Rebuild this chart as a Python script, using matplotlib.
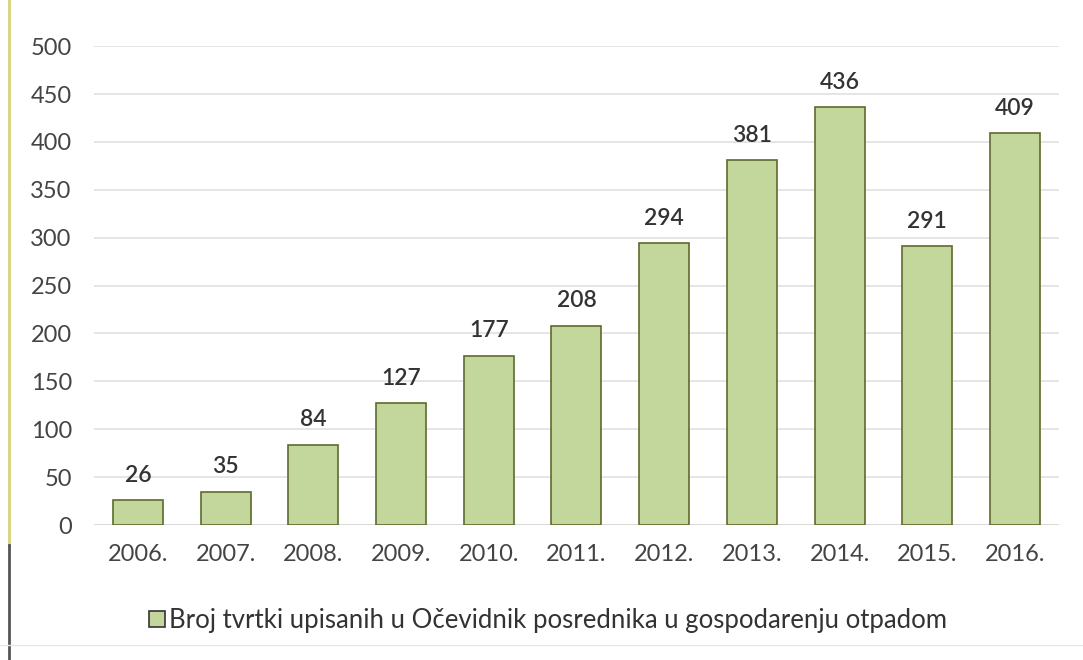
import matplotlib.pyplot as plt
import matplotlib.lines as mlines

plt.rcParams["font.family"] = ["Lato", "DejaVu Sans"]

godine = ["2006.", "2007.", "2008.", "2009.", "2010.", "2011.",
          "2012.", "2013.", "2014.", "2015.", "2016."]
broj = [26, 35, 84, 127, 177, 208, 294, 381, 436, 291, 409]
naziv = "Broj tvrtki upisanih u Očevidnik posrednika u gospodarenju otpadom"


def main():
    fig = plt.figure(figsize=(10.83, 6.6), dpi=100)
    ax = fig.add_axes([0.0868, 0.2045, 0.891, 0.7255])

    x = range(len(godine))
    bars = ax.bar(x, broj, width=0.57, color="#c3d69b",
                  edgecolor="#5f6b2c", linewidth=1.2, zorder=3)
    for b, v in zip(bars, broj):
        ax.text(b.get_x() + b.get_width() / 2, v + 15, str(v),
                ha="center", va="bottom", fontsize=16.5, color="#333333",
                fontweight="semibold")

    ax.set_xlim(-0.5, len(godine) - 0.5)
    ax.set_ylim(0, 500)
    ax.set_yticks(range(0, 501, 50))
    ax.set_xticks(list(x))
    ax.set_xticklabels(godine)
    ax.tick_params(axis="both", length=0, labelsize=17, colors="#444444")
    ax.tick_params(axis="x", pad=14)
    ax.tick_params(axis="y", pad=16)
    ax.grid(axis="y", color="#e3e3e3", linewidth=1.3, zorder=0)
    for s in ax.spines.values():
        s.set_visible(False)
    ax.axhline(0, color="#d9d9d9", linewidth=1.3, zorder=2)

    # legenda ispod grafa
    oznaka = mlines.Line2D([], [], marker="s", linestyle="none",
                           markersize=12, markerfacecolor="#c3d69b",
                           markeredgecolor="#333333", markeredgewidth=1.2)
    fig.legend([oznaka], [naziv], loc="center", bbox_to_anchor=(0.505, 0.06),
               frameon=False, fontsize=18.5, handletextpad=0.1,
               handlelength=0.8, labelcolor="#333333")

    # rubovi slike
    fig.add_artist(mlines.Line2D([0.008, 0.008], [0.175, 1.0],
                                 color="#d8d27a", linewidth=2))
    fig.add_artist(mlines.Line2D([0.008, 0.008], [0.0, 0.175],
                                 color="#555555", linewidth=2))
    fig.add_artist(mlines.Line2D([0.0, 1.0], [0.022, 0.022],
                                 color="#e6e6e6", linewidth=1))

    fig.savefig("out.png", dpi=100)


if __name__ == '__main__':
    main()
